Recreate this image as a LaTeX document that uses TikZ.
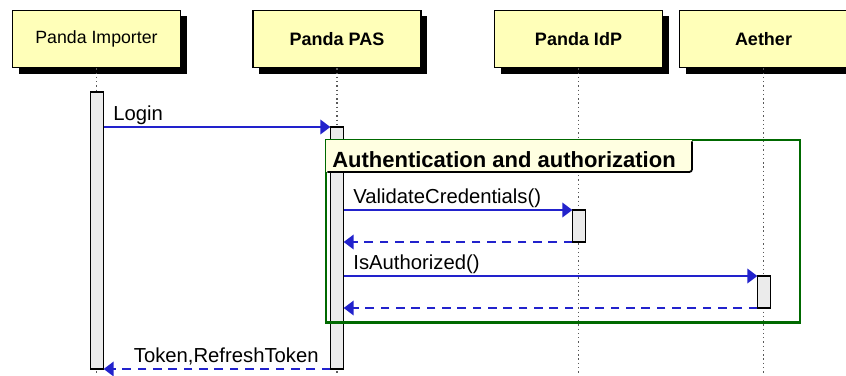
\documentclass[tikz,border=0pt]{standalone}
\usepackage{fontspec}
\setmainfont{Liberation Sans}
\usetikzlibrary{arrows.meta,shadows}

\definecolor{boxyellow}{RGB}{255,255,185}
\definecolor{tabyellow}{RGB}{255,255,225}
\definecolor{bargray}{RGB}{235,235,235}
\definecolor{msgblue}{RGB}{34,34,204}
\definecolor{fraggreen}{RGB}{0,105,0}

\begin{document}
\begin{tikzpicture}[x=0.75pt,y=-0.75pt,
  actor/.style={draw=black, line width=1pt, fill=boxyellow, minimum width=126pt, minimum height=43pt,
    font=\fontsize{13.5}{16}\selectfont\bfseries,
    drop shadow={fill=black, opacity=1, shadow xshift=4.5pt, shadow yshift=-4.5pt}},
  lifeline/.style={line width=1pt, gray!70!black, dash pattern=on 1pt off 2.2pt},
  bar/.style={draw=black, line width=1.1pt, fill=bargray, minimum width=10pt, inner sep=0pt, outer sep=0pt},
  msg/.style={msgblue, line width=1.1pt, -{Triangle[length=7.5pt,width=11pt]}},
  reply/.style={msg, dash pattern=on 6.5pt off 5pt},
  msglbl/.style={anchor=base west, xshift=6.75pt, yshift=4.8pt, inner sep=0pt, black,
    font=\fontsize{15.2}{18}\selectfont},
  frag/.style={draw=fraggreen, line width=2pt, anchor=north west, minimum width=355.5pt,
    minimum height=137pt, inner sep=0pt, outer sep=0pt},
  tab/.style={fill=tabyellow, anchor=north west, minimum width=274.5pt, minimum height=24pt,
    inner sep=0pt, outer sep=0pt}
]
\useasboundingbox (0,0) rectangle (846,375);
\coordinate (bottom) at (0,375);

\node[actor, font=\fontsize{13.3}{16}\selectfont] (imp) at (96.5,39) {Panda Importer};
\node[actor] (pas) at (337,39) {Panda PAS};
\node[actor] (idp) at (578.5,39) {Panda IdP};
\node[actor] (aeth) at (763.5,39) {Aether};

\foreach \p in {imp,pas,idp,aeth}
  \draw[lifeline] (\p.south) -- (\p.south |- bottom);

\node[bar, minimum height=207.75pt] (impbar) at (97,230.5) {};
\node[bar, minimum height=181.5pt] (pasbar) at (337,248) {};
\node[bar, minimum height=24pt] (idpbar) at (579,226) {};
\node[bar, minimum height=24pt] (aethbar) at (764,292) {};

\node[frag] (authfrag) at (326,140) {};
\node[tab] (authtab) at (authfrag.north west) {};
\draw[line width=1.3pt, rounded corners=2pt] ([yshift=-1pt]authtab.north east) -- (authtab.south east) -- ([xshift=1pt]authtab.south west);
\node[anchor=base west, inner sep=0pt, font=\fontsize{16.5}{19}\selectfont\bfseries]
  (authtitle) at ([shift={(6,27)}]authtab.north west) {Authentication and authorization};

\draw[msg] (impbar.east |- pasbar.north) -- node[msglbl, at start] {Login} (pasbar.north west);
\draw[msg] (pasbar.east |- idpbar.north) -- node[msglbl, at start] {ValidateCredentials()} (idpbar.north west);
\draw[reply] (idpbar.south west) -- (pasbar.east |- idpbar.south);
\draw[msg] (pasbar.east |- aethbar.north) -- node[msglbl, at start] {IsAuthorized()} (aethbar.north west);
\draw[reply] (aethbar.south west) -- (pasbar.east |- aethbar.south);
\draw[reply] (pasbar.south west) -- node[msglbl, at start, anchor=base east, xshift=-15pt] {Token,RefreshToken} (impbar.south east);
\end{tikzpicture}
\end{document}
